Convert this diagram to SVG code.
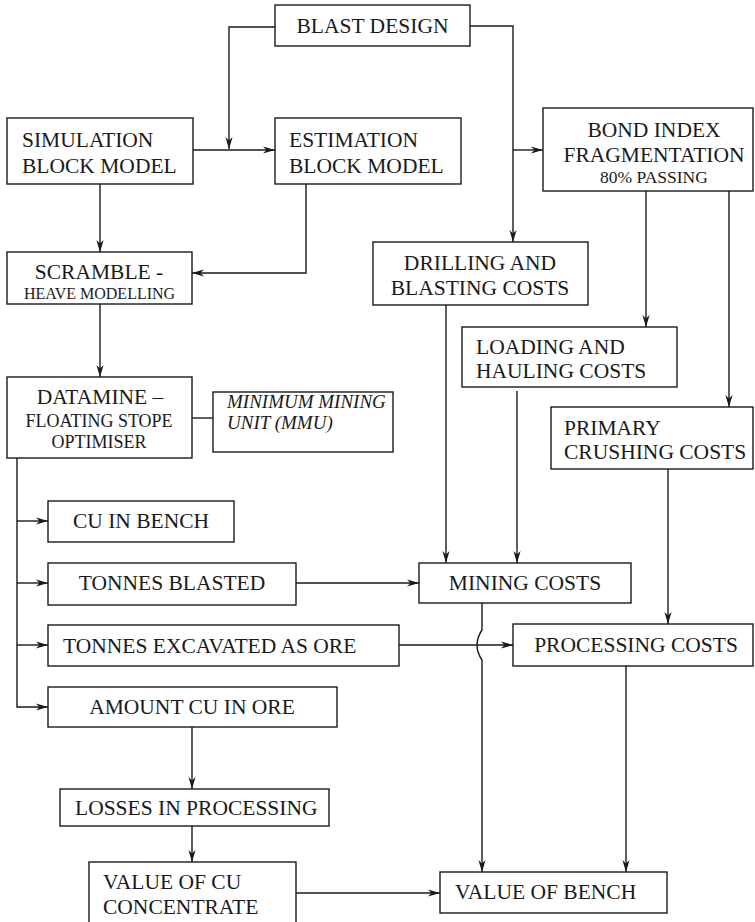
<svg xmlns="http://www.w3.org/2000/svg" width="755" height="922" viewBox="0 0 755 922">
  <style>
    .box { fill: #ffffff; stroke: #1a1a1a; stroke-width: 1.4; }
    .t { font-family: "Liberation Serif", "Times New Roman", serif; font-size: 21.5px; fill: #1a1a1a; }
    .s { font-size: 16px; }
    .m { font-size: 18px; }
    .p { font-size: 17.5px; }
    .i { font-style: italic; font-size: 19px; }
    .c { text-anchor: middle; }
    .ln { fill: none; stroke: #1a1a1a; stroke-width: 1.4; }
    .ar { marker-end: url(#head); }
  </style>
  <defs>
    <marker id="head" markerUnits="userSpaceOnUse" markerWidth="14" markerHeight="10" viewBox="-13 -5 14 10" refX="0" refY="0" orient="auto">
      <path d="M-12,-3.6 L0,0 L-12,3.6 L-8.5,0 Z" fill="#1a1a1a"/>
    </marker>
  </defs>

  <g id="connectors">
    <path class="ln ar" d="M275,27 H229 V149"/>
    <path class="ln ar" d="M193,150 H275"/>
    <path class="ln ar" d="M470,26 H513 V242"/>
    <path class="ln ar" d="M513,150 H543"/>
    <path class="ln ar" d="M100,184 V252"/>
    <path class="ln ar" d="M306,184 V273 H192"/>
    <path class="ln ar" d="M100,304 V377"/>
    <path class="ln" d="M192,418 H213"/>
    <path class="ln ar" d="M17,458 V707 H48"/>
    <path class="ln ar" d="M17,521 H48"/>
    <path class="ln ar" d="M17,583 H48"/>
    <path class="ln ar" d="M17,645 H48"/>
    <path class="ln ar" d="M296,583 H419"/>
    <path class="ln ar" d="M399,645 H513"/>
    <path class="ln ar" d="M192,727 V789"/>
    <path class="ln ar" d="M192,826 V862"/>
    <path class="ln ar" d="M296,893 H440"/>
    <path class="ln ar" d="M446,305 V563"/>
    <path class="ln ar" d="M646,191 V327"/>
    <path class="ln ar" d="M517,391 V563"/>
    <path class="ln ar" d="M729,191 V407"/>
    <path class="ln ar" d="M668,469 V624"/>
    <path class="ln ar" d="M482,603 V630 Q472,645 482,660 V872"/>
    <path class="ln ar" d="M626,666 V872"/>
  </g>

  <g id="blast-design">
    <rect class="box" x="275" y="5" width="195" height="41"/>
    <text class="t c" x="372.5" y="33">BLAST DESIGN</text>
  </g>
  <g id="simulation-block-model">
    <rect class="box" x="7" y="118" width="186" height="66"/>
    <text class="t" x="22" y="147">SIMULATION</text>
    <text class="t" x="22" y="173">BLOCK MODEL</text>
  </g>
  <g id="estimation-block-model">
    <rect class="box" x="275" y="118" width="186" height="66"/>
    <text class="t" x="289" y="147">ESTIMATION</text>
    <text class="t" x="289" y="173">BLOCK MODEL</text>
  </g>
  <g id="bond-index">
    <rect class="box" x="543" y="108" width="210" height="83"/>
    <text class="t c" x="654" y="137">BOND INDEX</text>
    <text class="t c" x="654" y="162">FRAGMENTATION</text>
    <text class="t c p" x="654" y="183">80% PASSING</text>
  </g>
  <g id="scramble">
    <rect class="box" x="7" y="252" width="185" height="52"/>
    <text class="t c" x="99" y="279">SCRAMBLE -</text>
    <text class="t c s" x="99.5" y="299">HEAVE MODELLING</text>
  </g>
  <g id="datamine">
    <rect class="box" x="7" y="377" width="185" height="81"/>
    <text class="t c" x="100" y="404">DATAMINE –</text>
    <text class="t c m" x="99" y="427">FLOATING STOPE</text>
    <text class="t c m" x="99" y="448">OPTIMISER</text>
  </g>
  <g id="mmu">
    <rect class="box" x="213" y="392" width="180" height="60"/>
    <text class="t i" x="227" y="408">MINIMUM MINING</text>
    <text class="t i" x="227" y="429">UNIT (MMU)</text>
  </g>
  <g id="drilling-blasting">
    <rect class="box" x="373" y="242" width="215" height="63"/>
    <text class="t c" x="480" y="270">DRILLING AND</text>
    <text class="t c" x="480" y="295">BLASTING COSTS</text>
  </g>
  <g id="loading-hauling">
    <rect class="box" x="462" y="327" width="215" height="60"/>
    <text class="t" x="476" y="354">LOADING AND</text>
    <text class="t" x="476" y="378">HAULING COSTS</text>
  </g>
  <g id="primary-crushing">
    <rect class="box" x="551" y="407" width="202" height="62"/>
    <text class="t" x="564" y="435">PRIMARY</text>
    <text class="t" x="564" y="459">CRUSHING COSTS</text>
  </g>
  <g id="cu-in-bench">
    <rect class="box" x="48" y="501" width="186" height="41"/>
    <text class="t c" x="141" y="528">CU IN BENCH</text>
  </g>
  <g id="tonnes-blasted">
    <rect class="box" x="48" y="563" width="248" height="42"/>
    <text class="t c" x="172" y="590">TONNES BLASTED</text>
  </g>
  <g id="tonnes-excavated">
    <rect class="box" x="48" y="625" width="351" height="41"/>
    <text class="t" x="63" y="653">TONNES EXCAVATED AS ORE</text>
  </g>
  <g id="amount-cu">
    <rect class="box" x="48" y="687" width="289" height="40"/>
    <text class="t c" x="192" y="714">AMOUNT CU IN ORE</text>
  </g>
  <g id="losses">
    <rect class="box" x="60" y="789" width="269" height="37"/>
    <text class="t" x="75" y="815">LOSSES IN PROCESSING</text>
  </g>
  <g id="value-cu">
    <rect class="box" x="89" y="862" width="207" height="70"/>
    <text class="t" x="103" y="889">VALUE OF CU</text>
    <text class="t" x="103" y="914">CONCENTRATE</text>
  </g>
  <g id="mining-costs">
    <rect class="box" x="419" y="563" width="212" height="40"/>
    <text class="t c" x="525" y="590">MINING COSTS</text>
  </g>
  <g id="processing-costs">
    <rect class="box" x="513" y="624" width="240" height="42"/>
    <text class="t c" x="636" y="652">PROCESSING COSTS</text>
  </g>
  <g id="value-of-bench">
    <rect class="box" x="440" y="872" width="227" height="41"/>
    <text class="t" x="455" y="899">VALUE OF BENCH</text>
  </g>
</svg>
